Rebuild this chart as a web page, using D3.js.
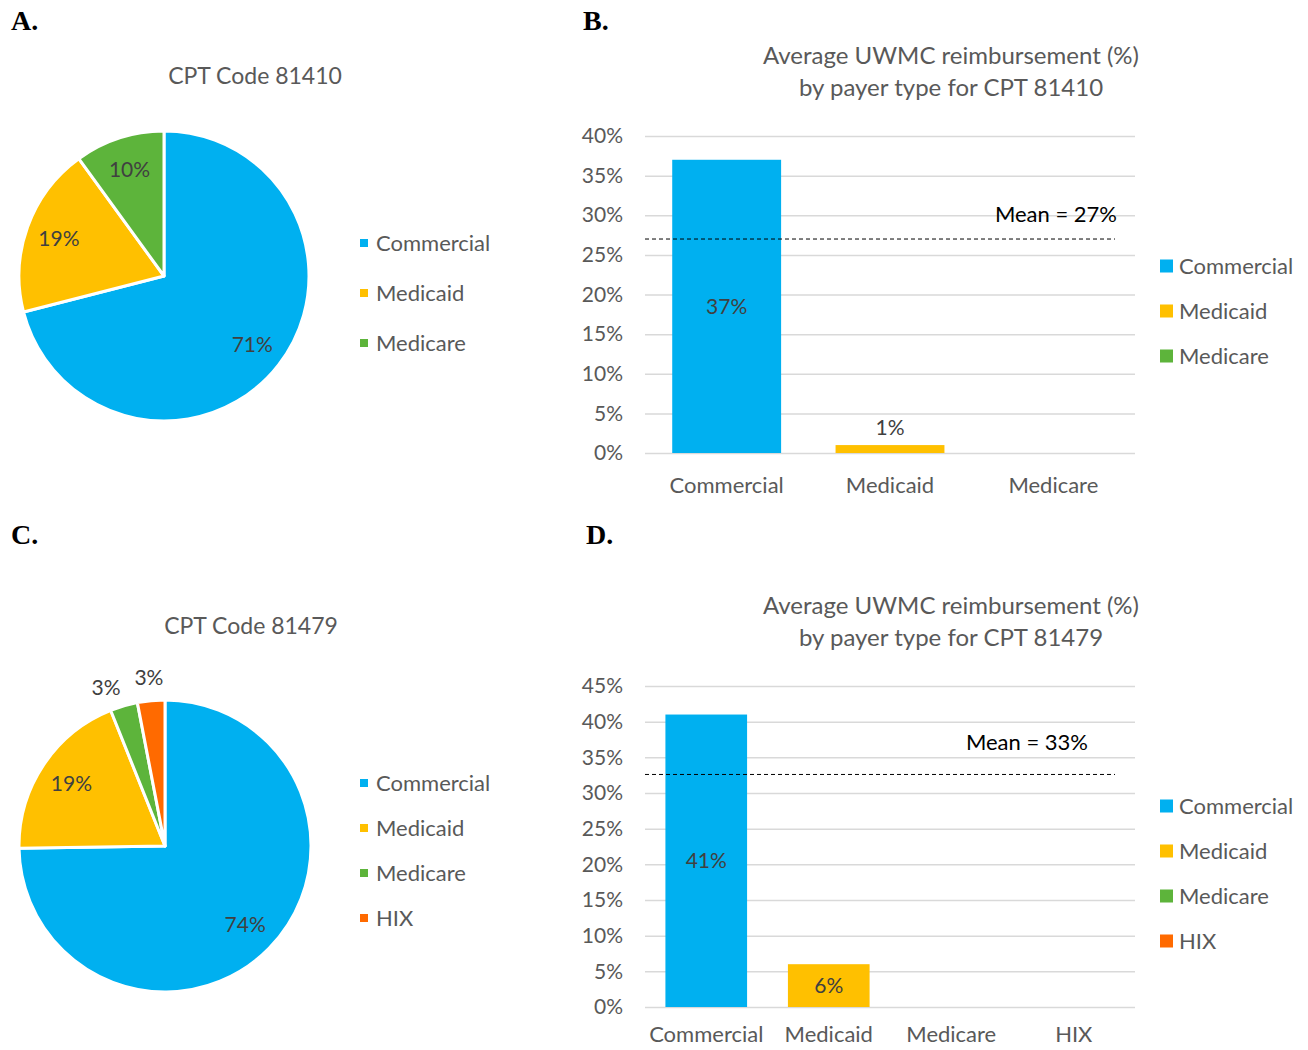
<!DOCTYPE html>
<html>
<head>
<meta charset="utf-8">
<script src="https://cdn.jsdelivr.net/npm/d3@7"></script>
<style>
  body { margin: 0; background: #fff; }
  svg { display: block; font-family: Lato, "Open Sans", sans-serif; }
</style>
</head>
<body>
<script>
// ---- data ----
const payers3 = ["Commercial", "Medicaid", "Medicare"];
const payers4 = ["Commercial", "Medicaid", "Medicare", "HIX"];
const payerColors = ["#00B0F0", "#FFC000", "#5DB43B", "#FF6A00"];

const share81410 = [71, 19, 10];          // A. pie
const reimb81410 = [37, 1, null];         // B. bars (% reimbursed)
const mean81410 = 27;

const share81479 = [74, 19, 3, 3];        // C. pie
const reimb81479 = [41, 6, null, null];   // D. bars
const mean81479 = 32.6;                   // labelled "33%"

const ticks81410 = [0, 5, 10, 15, 20, 25, 30, 35, 40];
const ticks81479 = [0, 5, 10, 15, 20, 25, 30, 35, 40, 45];

var W = 1308, H = 1050;
var color = d3.scaleOrdinal().domain(payers4).range(payerColors);

var svg = d3.select("body").append("svg")
    .attr("width", W).attr("height", H);

// panel letters
svg.append("g")
    .attr("font-family", "'Liberation Serif', 'Times New Roman', serif")
    .attr("font-weight", "bold")
    .attr("font-size", 28)
    .attr("fill", "#000")
  .selectAll("text")
  .data([["A.", 11, 30], ["B.", 583, 30], ["C.", 11, 544], ["D.", 586, 544]])
  .join("text")
    .attr("x", d => d[1]).attr("y", d => d[2])
    .text(d => d[0]);

function pieChart(o) {
  var g = svg.append("g");
  g.append("text")
      .attr("x", o.titleX).attr("y", o.titleY)
      .attr("text-anchor", "middle")
      .attr("font-size", 23).attr("fill", "#595959")
      .text(o.title);

  var data = o.names.map((n, i) => ({name: n, value: o.values[i]}));
  var arcs = d3.pie().sort(null).value(d => d.value)(data);
  var arc = d3.arc().innerRadius(0).outerRadius(o.r);
  var pg = g.append("g").attr("transform", `translate(${o.cx},${o.cy})`);

  pg.selectAll("path")
    .data(arcs)
    .join("path")
      .attr("d", arc)
      .attr("fill", d => color(d.data.name))
      .attr("stroke", "#fff")
      .attr("stroke-width", 3)
      .attr("stroke-linejoin", "round");

  pg.selectAll("text")
    .data(arcs)
    .join("text")
      .attr("transform", (d, i) => {
        var a = (d.startAngle + d.endAngle) / 2;
        var small = d.data.value < 5;
        // small slices get outside labels; push the first of a pair apart
        var next = arcs[i + 1];
        if (small && next && next.data.value < 5) a -= 0.07;
        var rr = small ? o.r * 1.16 : o.r * 0.77;
        return `translate(${Math.sin(a) * rr},${-Math.cos(a) * rr})`;
      })
      .attr("text-anchor", "middle")
      .attr("dy", "0.35em")
      .attr("font-size", 21).attr("fill", "#404040")
      .text(d => d.data.value + "%");

  var lg = g.append("g").selectAll("g")
    .data(o.names)
    .join("g")
      .attr("transform", (d, i) => `translate(${o.legX},${o.legY + i * o.legStep})`);
  lg.append("rect")
      .attr("x", 0).attr("y", -4).attr("width", 8).attr("height", 8)
      .attr("fill", d => color(d));
  lg.append("text")
      .attr("x", 16).attr("dy", "0.35em")
      .attr("font-size", 22).attr("fill", "#595959")
      .text(d => d);
}

function barChart(o) {
  var g = svg.append("g");
  g.append("g")
      .attr("text-anchor", "middle")
      .attr("font-size", 24).attr("fill", "#595959")
    .selectAll("text")
    .data(o.title)
    .join("text")
      .attr("x", 951).attr("y", (d, i) => o.titleY + i * 32)
      .text(d => d);

  var x = d3.scaleBand().domain(o.names).range([645, 1135])
      .paddingInner(1 / 3).paddingOuter(1 / 6);
  var y = d3.scaleLinear().domain([0, d3.max(o.ticks)]).range([o.y0, o.y1]);

  var ya = g.append("g")
      .attr("transform", "translate(645,0)")
      .call(d3.axisLeft(y).tickValues(o.ticks).tickFormat(d => d + "%")
        .tickSizeInner(-490).tickSizeOuter(0).tickPadding(22));
  ya.select(".domain").remove();
  ya.attr("font-family", null);
  ya.selectAll("line").attr("stroke", "#D9D9D9").attr("stroke-width", 1.5);
  ya.selectAll("text").attr("font-size", 21).attr("fill", "#595959");

  var xa = g.append("g")
      .attr("transform", `translate(0,${o.y0})`)
      .call(d3.axisBottom(x).tickSize(0).tickPadding(o.xPad));
  xa.select(".domain").remove();
  xa.attr("font-family", null);
  xa.selectAll("text").attr("font-size", 22).attr("fill", "#595959");

  var data = o.names.map((n, i) => ({name: n, value: o.values[i]}))
      .filter(d => d.value != null);

  g.append("g").selectAll("rect")
    .data(data)
    .join("rect")
      .attr("x", d => x(d.name))
      .attr("width", x.bandwidth())
      .attr("y", d => y(d.value))
      .attr("height", d => y(0) - y(d.value))
      .attr("fill", d => color(d.name));

  g.append("g").selectAll("text")
    .data(data)
    .join("text")
      .attr("x", d => x(d.name) + x.bandwidth() / 2)
      .attr("y", d => {
        var h = y(0) - y(d.value);
        return h < 20 ? y(d.value) - 17 : y(d.value) + h / 2;
      })
      .attr("dy", "0.35em")
      .attr("text-anchor", "middle")
      .attr("font-size", 21).attr("fill", "#404040")
      .text(d => d.value + "%");

  // mean line
  g.append("line")
      .attr("x1", 645).attr("x2", 1115)
      .attr("y1", y(o.mean)).attr("y2", y(o.mean))
      .attr("stroke", "#000").attr("stroke-width", 1)
      .attr("stroke-dasharray", "4,3");
  g.append("text")
      .attr("x", o.meanX).attr("y", y(o.mean) - o.meanDy)
      .attr("text-anchor", "end")
      .attr("font-size", 22).attr("fill", "#000")
      .text(`Mean = ${Math.round(o.mean)}%`);

  var lg = g.append("g").selectAll("g")
    .data(o.names)
    .join("g")
      .attr("transform", (d, i) => `translate(1160,${o.legY + i * 45})`);
  lg.append("rect")
      .attr("x", 0).attr("y", -6.5).attr("width", 13).attr("height", 13)
      .attr("fill", d => color(d));
  lg.append("text")
      .attr("x", 19).attr("dy", "0.35em")
      .attr("font-size", 22).attr("fill", "#595959")
      .text(d => d);
}

pieChart({title: "CPT Code 81410", titleX: 255, titleY: 84,
  names: payers3, values: share81410, cx: 164, cy: 276, r: 145,
  legX: 360, legY: 243, legStep: 50});

barChart({title: ["Average UWMC reimbursement (%)", "by payer type for CPT 81410"],
  titleY: 64, names: payers3, values: reimb81410, ticks: ticks81410,
  y0: 453, y1: 136, xPad: 24, mean: mean81410, meanX: 1117, meanDy: 17, legY: 266});

pieChart({title: "CPT Code 81479", titleX: 251, titleY: 634,
  names: payers4, values: share81479, cx: 165, cy: 846, r: 146,
  legX: 360, legY: 783, legStep: 45});

barChart({title: ["Average UWMC reimbursement (%)", "by payer type for CPT 81479"],
  titleY: 614, names: payers4, values: reimb81479, ticks: ticks81479,
  y0: 1007, y1: 686, xPad: 19, mean: mean81479, meanX: 1088, meanDy: 24, legY: 806});
</script>
</body>
</html>
